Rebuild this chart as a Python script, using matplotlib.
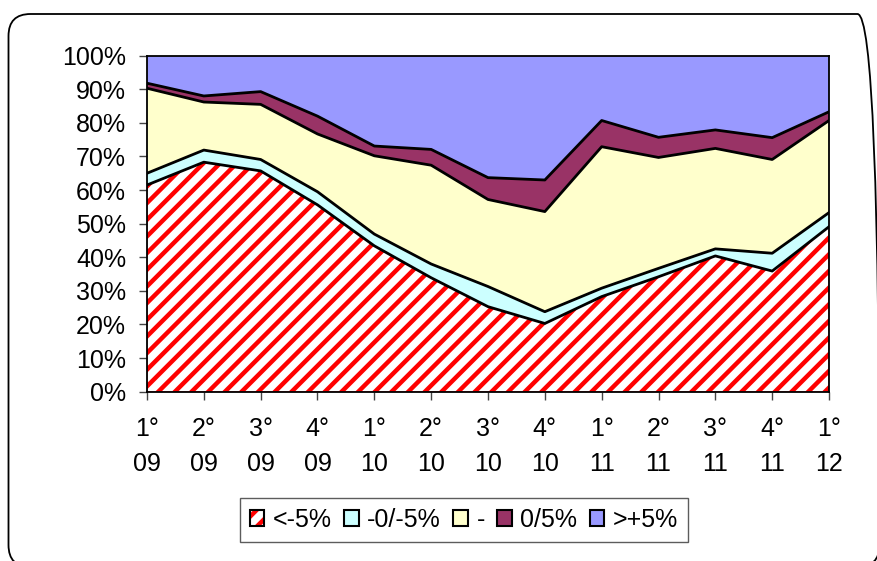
import numpy as np
import matplotlib.pyplot as plt
from matplotlib.patches import Patch, FancyBboxPatch
from matplotlib.transforms import IdentityTransform

plt.rcParams['font.family'] = ['Liberation Sans', 'DejaVu Sans']
plt.rcParams['hatch.linewidth'] = 3.2

# quarters
quarters = ['1°\n09', '2°\n09', '3°\n09', '4°\n09', '1°\n10', '2°\n10', '3°\n10',
            '4°\n10', '1°\n11', '2°\n11', '3°\n11', '4°\n11', '1°\n12']

# shares in % per quarter
below_m5 = [61.5, 68.3, 65.7, 55.6, 43.4, 33.9, 25.3, 20.3, 28.3, 34.2, 40.4, 35.9, 49.1]
m0_m5 = [3.5, 3.6, 3.4, 3.9, 3.5, 4.1, 6.0, 3.5, 2.5, 2.5, 2.1, 5.3, 4.2]
flat = [25.3, 14.3, 16.4, 17.2, 23.3, 29.4, 25.9, 29.8, 42.1, 33.0, 29.9, 27.9, 27.4]
p0_p5 = [1.5, 1.8, 3.8, 5.3, 2.9, 4.7, 6.5, 9.4, 7.8, 6.0, 5.5, 6.5, 2.6]
above_p5 = [8.2, 12.0, 10.7, 18.0, 26.9, 27.9, 36.3, 37.0, 19.3, 24.3, 22.1, 24.4, 16.7]

labels = ['<-5%', '-0/-5%', '-', '0/5%', '>+5%']
colors = ['white', '#CCFFFF', '#FFFFCC', '#993366', '#9999FF']

series = np.array([below_m5, m0_m5, flat, p0_p5, above_p5])
cum = np.cumsum(series, axis=0)
cum = cum / cum[-1] * 100
x = np.arange(len(quarters))

HATCH_LW = 3.2

fig = plt.figure(figsize=(8.77, 5.61), dpi=100)
ax = fig.add_axes([0.1676, 0.3018, 0.7777, 0.599])

lower = np.zeros(len(x))
for i in range(len(series)):
    if i == 0:
        poly = ax.fill_between(x, lower, cum[i], facecolor='white', edgecolor='red',
                               hatch='//', linewidth=0.5)
        if hasattr(poly, 'set_hatch_linewidth'):
            poly.set_hatch_linewidth(HATCH_LW)
    else:
        ax.fill_between(x, lower, cum[i], facecolor=colors[i], linewidth=0)
    lower = cum[i]

for i in range(len(series) - 1):
    ax.plot(x, cum[i], color='black', lw=2.0)

ax.set_xlim(0, len(x) - 1)
ax.set_ylim(0, 100)
ax.set_yticks(np.arange(0, 101, 10))
ax.set_yticklabels([f'{v}%' for v in range(0, 101, 10)])
ax.set_xticks(x)
ax.set_xticklabels(quarters)
for t in ax.get_xticklabels():
    t.set_linespacing(1.6)
ax.tick_params(axis='both', labelsize=18, length=6, width=1, color='#444444')
ax.tick_params(axis='x', pad=12)
ax.tick_params(axis='y', pad=9)
for s in ax.spines.values():
    s.set_linewidth(1.3)
    s.set_color('black')

# legend
hatched = Patch(facecolor='white', edgecolor='red', hatch='//', linewidth=0.5)
if hasattr(hatched, 'set_hatch_linewidth'):
    hatched.set_hatch_linewidth(HATCH_LW)
handles = [(hatched, Patch(facecolor='none', edgecolor='black', linewidth=1.5))]
for c in colors[1:]:
    handles.append(Patch(facecolor=c, edgecolor='black', linewidth=1.5))
leg = fig.legend(handles, labels, loc='center', bbox_to_anchor=(0.529, 0.073),
                 ncol=5, fontsize=18, frameon=True, fancybox=False,
                 handlelength=0.58, handleheight=0.58, handletextpad=0.34,
                 columnspacing=0.5, borderpad=0.4, borderaxespad=0)
leg.get_frame().set_edgecolor('#333333')
leg.get_frame().set_linewidth(1.0)

# rounded outer frame
frame = FancyBboxPatch((8.5, -6), 871, 561 - 14 + 6,
                       boxstyle='round,pad=0,rounding_size=22',
                       transform=IdentityTransform(), facecolor='none',
                       edgecolor='black', linewidth=1.3)
fig.add_artist(frame)

fig.savefig('out.png', dpi=100)
